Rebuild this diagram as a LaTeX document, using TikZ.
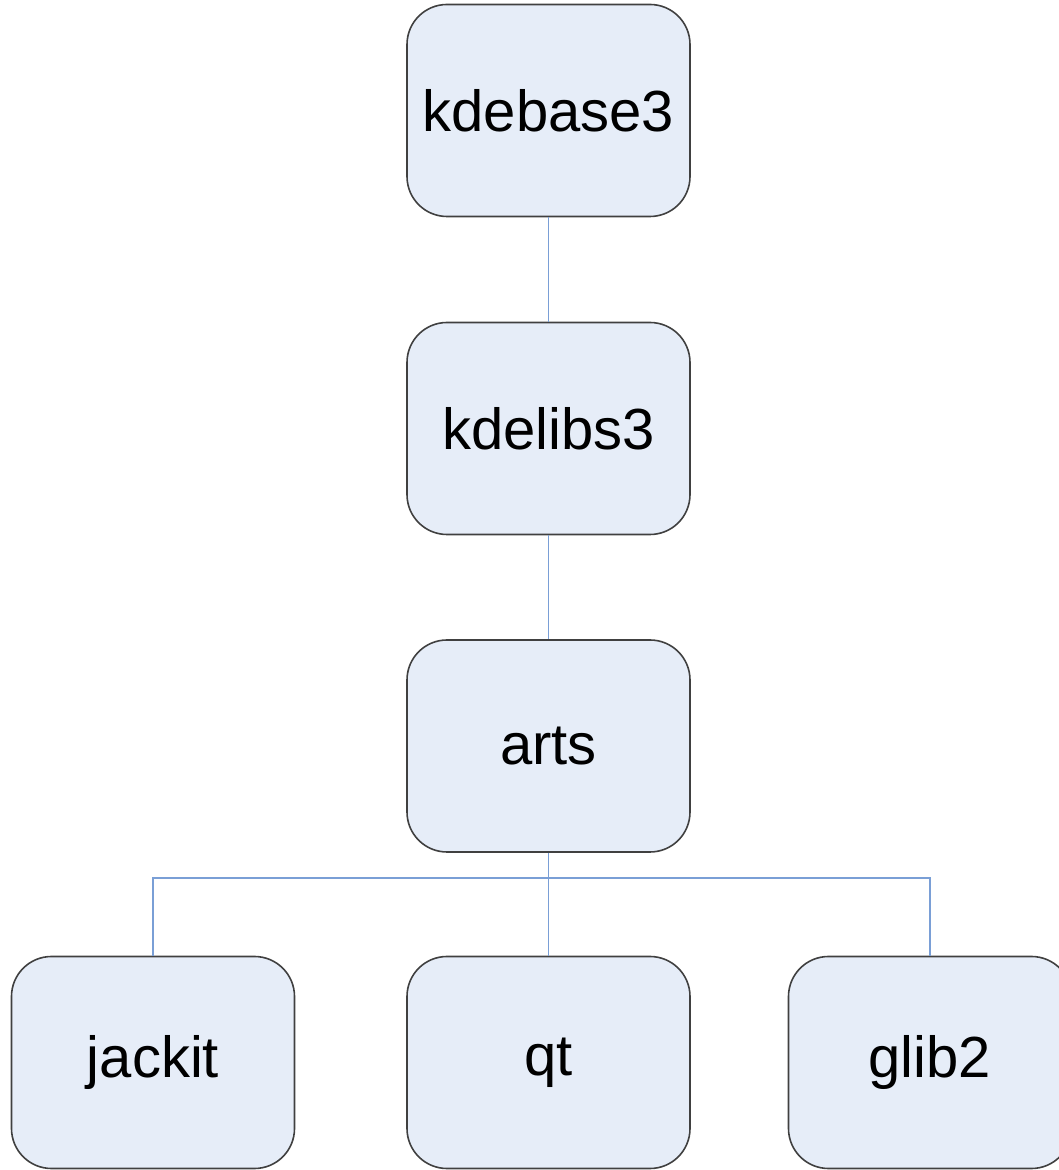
\documentclass[tikz,border=0pt]{standalone}
\usepackage{fontspec}
\setmainfont{Liberation Sans}
\begin{document}
\begin{tikzpicture}[x=1pt,y=1pt,
  pkg/.style={draw=black!75, line width=1.6pt, fill=boxfill, rounded corners=40pt,
    minimum width=283pt, minimum height=212pt, inner sep=0pt,
    font=\fontsize{58}{62}\selectfont},
  link/.style={draw=linkblue, line width=1.8pt}]
\definecolor{boxfill}{HTML}{E6EDF8}
\definecolor{linkblue}{HTML}{7A9FD6}
\useasboundingbox (0,0) rectangle (1058,1170);
\node[pkg] (kdebase) at (548.5,1059.5) {kdebase3};
\node[pkg] (kdelibs) at (548.5,741.5) {kdelibs3};
\node[pkg] (arts) at (548.5,424) {arts};
\node[pkg] (jackit) at (153,107.5) {jackit};
\node[pkg] (qt) at (548.5,107.5) {qt};
\node[pkg] (glib) at (930,107.5) {glib2};
\coordinate (bus) at (548.5,292);
\draw[link] (kdebase.south) -- (kdelibs.north);
\draw[link] (kdelibs.south) -- (arts.north);
\draw[link] (arts.south) -- (qt.north);
\draw[link] (arts.south) -- (bus) -| (jackit.north);
\draw[link] (bus) -| (glib.north);
\end{tikzpicture}
\end{document}
